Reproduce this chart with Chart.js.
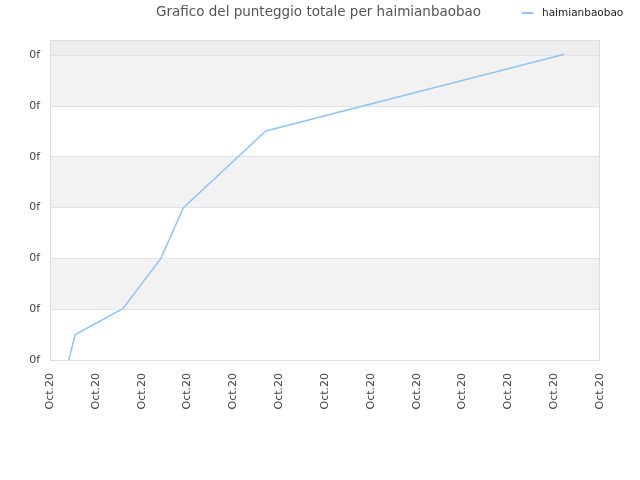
<!DOCTYPE html>
<html>
<head>
<meta charset="utf-8">
<script src="https://cdn.jsdelivr.net/npm/chart.js@4"></script>
<style>
  html, body { margin: 0; padding: 0; background: #fff; }
  #wrap { width: 640px; height: 480px; }
</style>
</head>
<body>
<div id="wrap"><canvas id="graph" width="640" height="480"></canvas></div>
<script>
var titleText = "Grafico del punteggio totale per haimianbaobao";
var seriesName = "haimianbaobao";
// x position in days-ish index, y in grid units
var xValues = [0.41, 0.55, 1.59, 2.42, 2.91, 4.71, 11.22];
var yValues = [0, 0.5, 1.01, 2.0, 3.0, 4.51, 6.02];
var xTickLabel = "Oct.20";
var yTickLabel = "0f";
var yTicks = [0, 1, 2, 3, 4, 5, 6];

var lineColor = "#90c4f5";

var points = xValues.map(function (x, i) { return { x: x, y: yValues[i] }; });

// alternating gray bands behind the plot
var bands = {
  id: "bands",
  beforeDraw: function (c) {
    var a = c.chartArea, y = c.scales.y, ctx = c.ctx;
    ctx.save();
    ctx.fillStyle = "#ededed";
    ctx.fillRect(a.left, a.top, a.right - a.left, y.getPixelForValue(6) - a.top);
    for (var v = 0; v < 6; v++) {
      if (v % 2 == 1) {
        ctx.fillStyle = "#f2f2f2";
        var top = y.getPixelForValue(v + 1), bot = y.getPixelForValue(v);
        ctx.fillRect(a.left, top, a.right - a.left, bot - top);
      }
    }
    ctx.restore();
  },
  afterDraw: function (c) {
    var a = c.chartArea, ctx = c.ctx;
    ctx.save();
    ctx.strokeStyle = "#dcdcdc";
    ctx.lineWidth = 1;
    ctx.strokeRect(a.left + 0.5, a.top + 0.5, a.right - a.left - 1, a.bottom - a.top);
    // title
    ctx.font = "13.5px 'DejaVu Sans'";
    ctx.fillStyle = "#555";
    ctx.textBaseline = "middle";
    ctx.textAlign = "left";
    ctx.fillText(titleText, 156, 12);
    // legend
    ctx.strokeStyle = lineColor;
    ctx.lineWidth = 2;
    ctx.beginPath();
    ctx.moveTo(522, 13);
    ctx.lineTo(533, 13);
    ctx.stroke();
    ctx.font = "10.5px 'DejaVu Sans'";
    ctx.fillStyle = "#222";
    ctx.fillText(seriesName, 542, 13);
    ctx.restore();
  }
};

var chart = new Chart("graph", {
  type: "line",
  data: {
    datasets: [{
      label: seriesName,
      data: points,
      borderColor: lineColor,
      borderWidth: 1.5,
      pointRadius: 0,
      fill: false,
      lineTension: 0
    }]
  },
  options: {
    responsive: false,
    animation: false,
    layout: { padding: { top: 40, right: 40, left: 0, bottom: 0 } },
    plugins: { legend: { display: false }, title: { display: false }, tooltip: { enabled: false } },
    scales: {
      x: {
        type: "linear",
        min: 0,
        max: 12,
        afterFit: function (s) { s.height = 120; },
        grid: { display: false },
        border: { display: false },
        ticks: {
          stepSize: 1,
          autoSkip: false,
          maxRotation: 90,
          minRotation: 90,
          padding: 5,
          color: "#444",
          font: { family: "DejaVu Sans", size: 11 },
          callback: function () { return xTickLabel; }
        }
      },
      y: {
        min: 0,
        max: 6.3,
        afterFit: function (s) { s.width = 50; },
        afterBuildTicks: function (s) { s.ticks = yTicks.map(function (v) { return { value: v }; }); },
        grid: { color: "#e2e2e2", drawTicks: false },
        border: { display: false },
        ticks: {
          padding: 10,
          color: "#444",
          font: { family: "DejaVu Sans", size: 11 },
          callback: function () { return yTickLabel; }
        }
      }
    }
  },
  plugins: [bands]
});
</script>
</body>
</html>
